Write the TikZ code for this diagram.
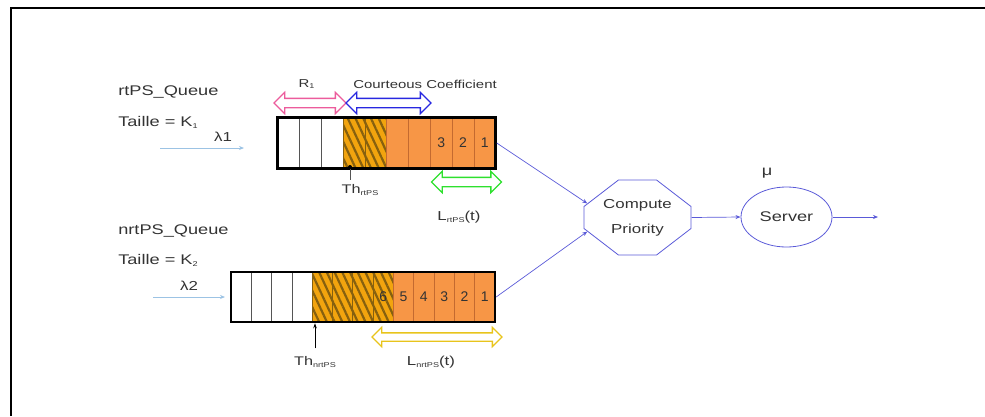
\documentclass[tikz,border=0pt]{standalone}
\usepackage{fontspec}
\setmainfont{Liberation Sans}
\usetikzlibrary{shapes.geometric,shapes.misc,shapes.arrows,patterns.meta,arrows.meta}
\definecolor{cellorange}{HTML}{F79646}
\definecolor{busyline}{HTML}{C46A30}
\definecolor{hatchamber}{HTML}{F2A40E}
\definecolor{hatchbrown}{HTML}{86600F}
\definecolor{slotline}{HTML}{555555}
\definecolor{linkblue}{HTML}{5A5AD8}
\definecolor{inblue}{HTML}{9CC3E4}
\definecolor{rpink}{HTML}{EC5C9C}
\definecolor{cblue}{HTML}{2828E0}
\definecolor{lgreen}{HTML}{2EE02E}
\definecolor{lyellow}{HTML}{E8C41C}
\definecolor{txtgrey}{HTML}{333333}
% small lowered index as in K1, ThrtPS
\newcommand{\qsub}[1]{\raisebox{-0.25ex}{\fontsize{7}{8}\selectfont #1}}
\begin{document}
\begin{tikzpicture}[x=1pt,y=-1pt]
            %
            % `slot' is one cell of a queue, `free', `wait' and `busy' fill it.
            % `queue' is the thick frame round the cells.
            % `span' is the hollow double arrow.
            % `link' is used for the blue connectors.
            \tikzstyle{slot} = [draw=slotline,line width=0.8pt,inner sep=0pt]
            \tikzstyle{free} = [slot,fill=white]
            \tikzstyle{wait} = [slot,draw=hatchbrown,preaction={fill=hatchamber},pattern={Lines[angle=-65,distance=7pt,line width=2.2pt]},pattern color=hatchbrown]
            \tikzstyle{busy} = [slot,draw=busyline,fill=cellorange]
            \tikzstyle{queue} = [draw=black,line width=2.5pt,inner sep=0pt]
            \tikzstyle{digit} = [text=txtgrey,inner sep=0pt,font=\fontsize{14}{16}\selectfont]
            \tikzstyle{qtext} = [text=txtgrey,inner sep=0pt,xscale=1.3,font=\fontsize{14}{16}\selectfont]
            \tikzstyle{smalltext} = [qtext,font=\fontsize{11.5}{13}\selectfont]
            \tikzstyle{span} = [double arrow,line width=1.3pt,inner xsep=0pt,inner ysep=4pt,double arrow head extend=6pt]
            \tikzstyle{link} = [draw=linkblue,line width=0.7pt,-{Stealth[length=5pt,width=4pt]}]
            \tikzstyle{inlink} = [draw=inblue,line width=0.8pt,-{Stealth[length=5pt,width=4pt]}]
            \tikzstyle{octa} = [qtext,chamfered rectangle,draw=linkblue,line width=0.8pt,minimum width=82.3pt,minimum height=75pt,chamfered rectangle xsep=11.5pt,chamfered rectangle ysep=15pt,align=center,font=\fontsize{13}{25}\selectfont]
            \tikzstyle{srv} = [qtext,ellipse,draw=linkblue,line width=0.8pt,minimum width=70pt,minimum height=60pt]
            %
            \useasboundingbox (0,0) rectangle (985,416);
            \draw[line width=2pt] (11,416) -- (11,7.5) -- (985,7.5);
            %
            % rtPS queue
            \node[qtext,anchor=west] (rtname) at (118,92) {rtPS\_Queue};
            \node[qtext,anchor=west] (rtsize) at (118,122) {Taille = K\qsub{1}};
            \node[qtext,font=\fontsize{13}{15}\selectfont] (lam1) at (223,137) {λ1};
            \coordinate (in1) at (160,148);
            \coordinate (rtin) at (244,148);
            \draw[inlink] (in1) -- (rtin);
            \foreach \i in {0,...,2}
                \node[free,minimum width=21.8pt,minimum height=51pt] (rt\i) at ({288.6+21.8*\i},143) {};
            \foreach \i in {3,4}
                \node[wait,minimum width=21.8pt,minimum height=51pt] (rt\i) at ({288.6+21.8*\i},143) {};
            \foreach \i in {5,...,9}
                \node[busy,minimum width=21.8pt,minimum height=51pt] (rt\i) at ({288.6+21.8*\i},143) {};
            \foreach \i/\n in {7/3,8/2,9/1}
                \node[digit] at (rt\i) {\n};
            \node[queue,minimum width=217.8pt,minimum height=51pt] (rtq) at (386.6,143) {};
            %
            % Spans over and under the rtPS queue
            \node[span,draw=rpink,minimum height=72pt] (rspan) at (310,103) {};
            \node[smalltext] (rlab) at (306.5,84) {R\qsub{1}};
            \node[span,draw=cblue,minimum height=85pt] (cspan) at (388.5,103) {};
            \node[smalltext] (clab) at (425,84) {Courteous Coefficient};
            \node[span,draw=lgreen,minimum height=70pt] (lspan) at (466.5,182) {};
            \node[qtext,font=\fontsize{13}{15}\selectfont] (llab) at (459,217) {L\qsub{rtPS}(t)};
            \node[circle,fill=black,inner sep=0pt,minimum size=4pt] (thdot) at (350,167) {};
            \node[smalltext,font=\fontsize{12.5}{14}\selectfont] (thlab) at (360,190) {Th\qsub{rtPS}};
            \draw[slotline,line width=0.6pt,shorten >=4pt] (thdot) -- (thdot |- thlab.north);
            %
            % nrtPS queue
            \node[qtext,anchor=west] (nrtname) at (118,231) {nrtPS\_Queue};
            \node[qtext,anchor=west] (nrtsize) at (118,260) {Taille = K\qsub{2}};
            \node[qtext,font=\fontsize{13}{15}\selectfont] (lam2) at (189,286) {λ2};
            \coordinate (in2) at (153,297);
            \coordinate (nrtin) at (225,297);
            \draw[inlink] (in2) -- (nrtin);
            \foreach \i in {0,...,3}
                \node[free,minimum width=20.3pt,minimum height=50pt] (nrt\i) at ({241.15+20.3*\i},297) {};
            \foreach \i in {4,...,7}
                \node[wait,minimum width=20.3pt,minimum height=50pt] (nrt\i) at ({241.15+20.3*\i},297) {};
            \foreach \i in {8,...,12}
                \node[busy,minimum width=20.3pt,minimum height=50pt] (nrt\i) at ({241.15+20.3*\i},297) {};
            \foreach \i/\n in {7/6,8/5,9/4,10/3,11/2,12/1}
                \node[digit] at (nrt\i) {\n};
            \node[queue,minimum width=263.9pt,minimum height=50pt] (nrtq) at (362.95,297) {};
            %
            % Span and threshold under the nrtPS queue
            \node[span,draw=lyellow,minimum height=130pt,inner ysep=3.5pt,double arrow head extend=5.5pt] (nspan) at (437,337) {};
            \node[qtext,font=\fontsize{13}{15}\selectfont] (nlab) at (431,362) {L\qsub{nrtPS}(t)};
            \node[smalltext,font=\fontsize{12.5}{14}\selectfont] (thnlab) at (315,362) {Th\qsub{nrtPS}};
            \draw[black,line width=0.7pt,shorten <=8pt,-{Stealth[length=5pt,width=3.5pt]}] (thnlab.north) -- (thnlab.north |- nrtq.south);
            %
            % Scheduler and server
            \node[octa] (cp) at (637.5,217.5) {Compute\\Priority};
            \node[srv] (srv) at (786.5,217) {Server};
            \node[qtext] (mu) at (767,173) {μ};
            \coordinate (out) at (878,217);
            \draw[link] (rtq.east) -- (cp.160);
            \draw[link] (nrtq.east) -- (cp.200);
            \draw[link] (cp.east) -- (srv.west);
            \draw[link] (srv.east) -- (out);
        \end{tikzpicture}
\end{document}
